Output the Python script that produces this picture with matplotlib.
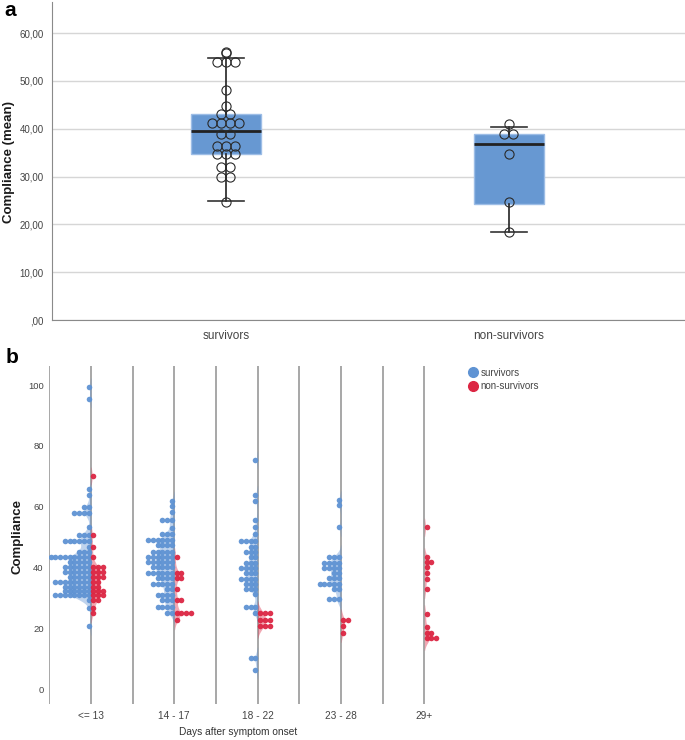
import numpy as np
import matplotlib
matplotlib.use('Agg')
import matplotlib.pyplot as plt
from matplotlib.lines import Line2D
from matplotlib.ticker import FuncFormatter

plt.rcParams['font.family'] = ['Liberation Sans', 'DejaVu Sans']

# ---- panel a: mean compliance per patient ----
groups_a = ['survivors', 'non-survivors']
surv_points = [56.1, 55.8, 54.0, 54.0, 54.0, 48.0, 44.7, 43.0, 43.0,
               41.2, 41.2, 41.2, 41.2, 39.0, 39.0, 36.3, 36.3, 36.3,
               34.7, 34.7, 34.7, 32.0, 32.0, 29.9, 29.9, 24.6]
nonsurv_points = [41.0, 39.0, 39.0, 34.7, 24.7, 18.5]
# box stats: q1, median, q3, lower whisker, upper whisker
surv_box = [34.7, 39.6, 43.0, 24.9, 54.7]
nonsurv_box = [24.3, 36.9, 38.8, 18.5, 40.4]

# ---- panel b: compliance by days after symptom onset, rows of (value, count) ----
day_groups = ['<= 13', '14 - 17', '18 - 22', '23 - 28', '29+']
le13_surv = [(99.4, 1), (95.5, 1), (65.7, 1), (63.7, 1), (60.0, 2), (58.0, 4),
             (53.2, 1), (50.8, 3), (48.8, 6), (46.8, 1), (45.1, 3), (43.4, 9),
             (41.8, 5), (40.1, 6), (38.5, 6), (36.9, 5), (35.2, 8), (33.6, 6),
             (32.2, 6), (30.8, 8), (29.2, 1), (26.7, 1), (20.7, 1)]
le13_non = [(70.1, 1), (50.8, 1), (46.8, 1), (43.4, 1), (40.1, 3), (38.5, 3),
            (36.9, 3), (35.2, 2), (33.6, 2), (32.2, 3), (30.8, 3), (29.2, 2),
            (26.7, 1), (25.0, 1)]
d14_surv = [(62.0, 1), (60.3, 1), (58.2, 1), (55.6, 3), (53.0, 1), (51.0, 3),
            (49.0, 6), (47.3, 4), (45.2, 5), (43.5, 6), (41.7, 6), (40.0, 5),
            (38.3, 6), (36.6, 4), (34.6, 5), (32.8, 2), (31.0, 4), (29.4, 3),
            (27.0, 4), (24.9, 2)]
d14_non = [(43.5, 1), (38.3, 2), (36.6, 2), (32.8, 1), (29.4, 2), (24.9, 4),
           (22.7, 1)]
d18_surv = [(75.3, 1), (63.8, 1), (62.0, 1), (55.6, 1), (53.2, 1), (51.0, 1),
            (48.8, 4), (46.8, 2), (45.0, 3), (43.3, 2), (41.5, 3), (39.7, 4),
            (38.0, 3), (36.3, 4), (34.7, 3), (33.0, 3), (31.3, 1), (26.9, 3),
            (24.9, 1), (10.2, 2), (6.2, 1)]
d18_non = [(24.9, 3), (22.7, 3), (20.7, 3)]
d23_surv = [(62.2, 1), (60.5, 1), (53.2, 1), (43.3, 3), (41.6, 4), (39.8, 4),
            (38.1, 2), (36.4, 3), (34.7, 5), (33.0, 2), (29.5, 3)]
d23_non = [(22.7, 2), (20.6, 1), (18.4, 1)]
d29_surv = []
d29_non = [(53.2, 1), (43.3, 1), (41.7, 2), (40.0, 1), (38.2, 1), (36.3, 1),
           (32.8, 1), (24.7, 1), (20.5, 1), (18.5, 2), (16.7, 3)]

blue = '#5f93d3'
red = '#dc2643'
box_blue = '#6798d2'

fig = plt.figure(figsize=(6.85, 7.4), dpi=100)

# ================= panel a =================
ax = fig.add_axes([52 / 685, 1 - 320 / 740, 1 - 52 / 685, 318 / 740])
stats = []
for name, b in zip(groups_a, [surv_box, nonsurv_box]):
    stats.append({'label': name, 'q1': b[0], 'med': b[1], 'q3': b[2],
                  'whislo': b[3], 'whishi': b[4], 'fliers': []})
ax.bxp(stats, positions=[0, 1], widths=0.25, capwidths=0.13,
       patch_artist=True, showfliers=False,
       boxprops=dict(facecolor=box_blue, edgecolor='#9dbde6', linewidth=1),
       medianprops=dict(color='#222222', linewidth=2),
       whiskerprops=dict(color='#222222', linewidth=1.2),
       capprops=dict(color='#333333', linewidth=1.2), zorder=2)

# beeswarm-like circles, same values side by side
step = 0.0318
for pos, pts in zip([0, 1], [surv_points, nonsurv_points]):
    vals, counts = np.unique(pts, return_counts=True)
    for v, c in zip(vals, counts):
        xs = pos + (np.arange(c) - (c - 1) / 2) * step
        ax.plot(xs, [v] * c, 'o', ms=6.6, mfc='none', mec='#2a2a2a',
                mew=0.8, zorder=3)

ax.set_xlim(-0.6148, 1.622)
ax.set_ylim(0, 66.5)
ax.set_yticks(np.arange(0, 61, 10))
ax.yaxis.set_major_formatter(FuncFormatter(
    lambda v, p: ',00' if v == 0 else f'{v:.2f}'.replace('.', ',')))
ax.set_xticks([0, 1])
ax.set_xticklabels(groups_a)
ax.grid(axis='y', color='#d6d6d6', linewidth=1)
ax.set_axisbelow(True)
ax.tick_params(axis='both', length=0, colors='#444444')
ax.tick_params(axis='y', labelsize=7, pad=6)
ax.tick_params(axis='x', labelsize=8.5, pad=7)
for s in ['top', 'right']:
    ax.spines[s].set_visible(False)
for s in ['left', 'bottom']:
    ax.spines[s].set_color('#8a8a8a')
fig.text(9 / 685, 1 - 162 / 740, 'Compliance (mean)', rotation=90,
         ha='center', va='center', fontsize=9.5, fontweight='bold',
         color='#1a1a1a')
fig.text(4 / 685, 1 - 10 / 740, 'a', fontsize=15, fontweight='bold',
         ha='left', va='center')

# ================= panel b =================
bx = fig.add_axes([49.3 / 685, 1 - 704 / 740, 416.7 / 685, 338 / 740])
bx.set_xlim(-0.5, 4.5)
bx.set_ylim(-4.93, 106.25)

dx = 0.057
surv_all = [le13_surv, d14_surv, d18_surv, d23_surv, d29_surv]
non_all = [le13_non, d14_non, d18_non, d23_non, d29_non]
ygrid = np.linspace(-5, 106, 800)
bw = 1.8
for i in range(len(day_groups)):
    bx.axvline(i - 0.5, color='#a0a0a0', linewidth=1.3, zorder=1)
    bx.axvline(i, color='#a0a0a0', linewidth=1.3, zorder=1)
    for rows, col, side in [(surv_all[i], blue, -1), (non_all[i], red, 1)]:
        if not rows:
            continue
        vals = np.array([r[0] for r in rows])
        cnts = np.array([r[1] for r in rows])
        # density shading
        sample = np.repeat(vals, cnts)
        pdf = np.exp(-0.5 * ((ygrid[:, None] - sample[None, :]) / bw) ** 2).sum(axis=1)
        pdf = pdf / (bw * np.sqrt(2 * np.pi))
        width = 0.07 * pdf
        w = np.where(width > 0.004, width, 0)
        bx.fill_betweenx(ygrid, i, i + side * w, color=col, alpha=0.4,
                         linewidth=0, zorder=2)
        # stacked dots
        for v, c in rows:
            xs = i + side * (np.arange(c) + 0.5) * dx
            bx.plot(xs, [v] * c, 'o', ms=4.0, color=col, mew=0,
                    alpha=0.95, zorder=3)

bx.set_yticks(np.arange(0, 101, 20))
bx.set_xticks(range(len(day_groups)))
bx.set_xticklabels(day_groups)
bx.tick_params(axis='both', length=0, colors='#444444')
bx.tick_params(axis='y', pad=4, labelsize=6.8)
bx.tick_params(axis='x', pad=5, labelsize=7.3)
for s in bx.spines.values():
    s.set_visible(False)

fig.text(238 / 685, 1 - 732 / 740, 'Days after symptom onset', ha='center',
         va='center', fontsize=7.3, color='#333333')
fig.text(18 / 685, 1 - 537 / 740, 'Compliance', rotation=90, ha='center',
         va='center', fontsize=9.5, fontweight='bold', color='#1a1a1a')
fig.text(6 / 685, 1 - 358 / 740, 'b', fontsize=15, fontweight='bold',
         ha='left', va='center')

handles = [Line2D([], [], marker='o', ls='', color=blue, ms=7, label='survivors'),
           Line2D([], [], marker='o', ls='', color=red, ms=7, label='non-survivors')]
fig.legend(handles=handles, loc='upper left',
           bbox_to_anchor=(463 / 685, 1 - 364 / 740), frameon=False,
           fontsize=7, handletextpad=0.2, labelspacing=0.35,
           handlelength=1.2, labelcolor='#444444', borderaxespad=0)

fig.savefig('out.png', dpi=100)
